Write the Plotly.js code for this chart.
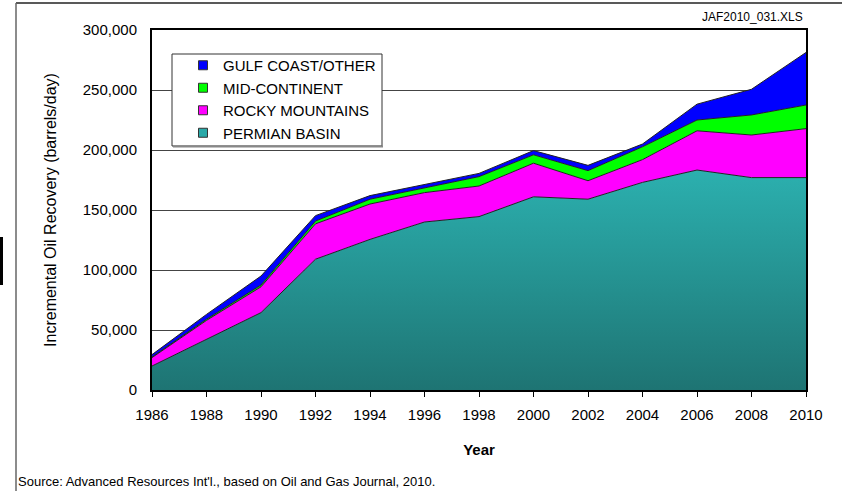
<!DOCTYPE html>
<html>
<head>
<meta charset="utf-8">
<script src="https://cdn.plot.ly/plotly-3.0.1.min.js"></script>
<style>html,body{margin:0;padding:0;background:#fff;}#chart{width:842px;height:491px;}</style>
</head>
<body>
<div id="chart"></div>
<script>
// ---- data (barrels/day) ----
const years = [1986, 1988, 1990, 1992, 1994, 1996, 1998, 2000, 2002, 2004, 2006, 2008, 2010];
const permianBasin   = [20000, 42500, 64500, 109000, 125500, 140000, 144500, 161000, 159000, 173000, 183300, 177000, 177000];
const rockyMountains = [7000, 15500, 21500, 29500, 29500, 24500, 25500, 28000, 15400, 19000, 32700, 35500, 40800];
const midContinent   = [500, 1000, 1500, 2300, 4000, 4000, 7800, 7000, 8400, 10700, 9000, 16700, 19700];
const gulfCoastOther = [2000, 4000, 7500, 4500, 3000, 2700, 2700, 3500, 4400, 2300, 13200, 21400, 43800];
const seriesNames = ["PERMIAN BASIN", "ROCKY MOUNTAINS", "MID-CONTINENT", "GULF COAST/OTHER"];
const xTickVals = [1986, 1988, 1990, 1992, 1994, 1996, 1998, 2000, 2002, 2004, 2006, 2008, 2010];
const yTickVals = [0, 50000, 100000, 150000, 200000, 250000, 300000];

const colors = ["#2aa9a8", "#ff00ff", "#00ff00", "#0000ff"];
const seriesVals = [permianBasin, rockyMountains, midContinent, gulfCoastOther];

const SANS = "'Liberation Sans', Arial, sans-serif";

const traces = [];
seriesVals.forEach((vals, i) => {
  const t = {
    x: years, y: vals, name: seriesNames[i],
    type: "scatter", mode: "lines", stackgroup: "one",
    line: {color: "#222", width: 1},
    fillcolor: colors[i], showlegend: false, hoverinfo: "x+y+name"
  };
  if (i === 0) {
    t.fillgradient = {type: "vertical", start: 0, stop: 190000,
      colorscale: [[0, "#1e7473"], [1, "#2cb2b1"]]};
  }
  traces.push(t);
});
// legend-only entries (top-to-bottom order as in the reference)
[3, 2, 1, 0].forEach(i => {
  traces.push({x: [null], y: [null], type: "scatter", mode: "markers", name: seriesNames[i],
    marker: {symbol: "square", size: 9, color: colors[i], line: {color: "#333", width: 1}},
    showlegend: true, hoverinfo: "skip"});
});

const W = 842, H = 491, L = 152, R = 36, T = 30, B = 101;
const pw = W - L - R, ph = H - T - B;
const px = v => (v - L) / pw;
const py = v => (H - B - v) / ph;

const layout = {
  width: W, height: H,
  margin: {l: L, r: R, t: T, b: B, pad: 0},
  paper_bgcolor: "#fff", plot_bgcolor: "#fff",
  showlegend: true,
  legend: {x: px(183), y: py(49), xanchor: "left", yanchor: "top",
    bgcolor: "rgba(0,0,0,0)", borderwidth: 0, traceorder: "normal",
    font: {family: SANS, size: 15, color: "#000"}, itemwidth: 30},
  xaxis: {range: [1986, 2010], tickvals: xTickVals, ticktext: xTickVals.map(String),
    showgrid: false, zeroline: false, showline: true, mirror: true,
    linecolor: "#000", linewidth: 2, ticks: "outside", ticklen: 5, tickcolor: "#000",
    ticklabelstandoff: 5,
    tickfont: {family: SANS, size: 15, color: "#000"},
    title: {text: "Year", font: {family: SANS, size: 15, color: "#000", weight: "bold"}, standoff: 22}},
  yaxis: {range: [0, 300000], tickvals: yTickVals, tickformat: ",",
    showgrid: true, gridcolor: "#444", gridwidth: 1, zeroline: false,
    showline: true, mirror: true, linecolor: "#000", linewidth: 2, ticks: "",
    ticklabelstandoff: 10,
    tickfont: {family: SANS, size: 15, color: "#000"},
    title: {text: "Incremental Oil Recovery (barrels/day)", font: {family: SANS, size: 16, color: "#000"}, standoff: 22}},
  shapes: [
    // legend box
    {type: "rect", xref: "paper", yref: "paper", x0: px(172), x1: px(382), y0: py(146), y1: py(54),
      fillcolor: "#fff", line: {color: "#333", width: 1}, layer: "above"},
    {type: "line", xref: "paper", yref: "paper", x0: px(173), x1: px(383), y0: py(146.5), y1: py(146.5),
      line: {color: "#888", width: 2}, layer: "above"},
    // outer frame lines
    {type: "line", xref: "paper", yref: "paper", x0: px(16), x1: px(842), y0: py(3), y1: py(3),
      line: {color: "#222", width: 1.5}},
    {type: "line", xref: "paper", yref: "paper", x0: px(16), x1: px(16), y0: py(3), y1: py(491),
      line: {color: "#666", width: 1.5}},
    {type: "rect", xref: "paper", yref: "paper", x0: px(0), x1: px(3), y0: py(285), y1: py(237),
      fillcolor: "#000", line: {width: 0}}
  ],
  annotations: [
    {text: "JAF2010_031.XLS", xref: "paper", yref: "paper", x: px(805), y: py(17),
      xanchor: "right", yanchor: "middle", showarrow: false, font: {family: SANS, size: 12, color: "#000"}},
    {text: "Source: Advanced Resources Int'l., based on Oil and Gas Journal, 2010.", xref: "paper", yref: "paper",
      x: px(16), y: py(481), xanchor: "left", yanchor: "middle", showarrow: false,
      font: {family: SANS, size: 13, color: "#000"}}
  ]
};

Plotly.newPlot("chart", traces, layout, {displayModeBar: false, staticPlot: true});
</script>
</body>
</html>
